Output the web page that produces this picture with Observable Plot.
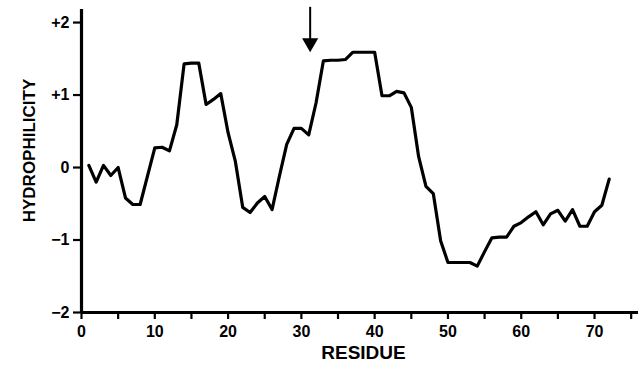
<!DOCTYPE html>
<html>
<head>
<meta charset="utf-8">
<script src="https://cdn.jsdelivr.net/npm/d3@7"></script>
<script src="https://cdn.jsdelivr.net/npm/@observablehq/plot@0.6"></script>
<style>
  html, body { margin: 0; padding: 0; background: #fff; }
</style>
</head>
<body>
<div id="chart"></div>
<script>
// Residue numbers (x) and hydrophilicity values (y)
const residues = [
  1, 2, 3, 4, 5, 6, 7, 8, 9, 10,
  11, 12, 13, 14, 15, 16, 17, 18, 19, 20,
  21, 22, 23, 24, 25, 26, 27, 28, 29, 30,
  31, 32, 33, 34, 35, 36, 37, 38, 39, 40,
  41, 42, 43, 44, 45, 46, 47, 48, 49, 50,
  51, 52, 53, 54, 55, 56, 57, 58, 59, 60,
  61, 62, 63, 64, 65, 66, 67, 68, 69, 70,
  71, 72
];
const hydrophilicity = [
  0.03, -0.20, 0.03, -0.11, 0.00, -0.42, -0.51, -0.51, -0.12, 0.27,
  0.28, 0.23, 0.59, 1.43, 1.44, 1.44, 0.87, 0.94, 1.02, 0.48,
  0.08, -0.55, -0.62, -0.49, -0.40, -0.58, -0.12, 0.32, 0.54, 0.54,
  0.45, 0.89, 1.47, 1.48, 1.48, 1.49, 1.59, 1.59, 1.59, 1.59,
  0.99, 0.99, 1.05, 1.03, 0.83, 0.15, -0.26, -0.36, -1.01, -1.31,
  -1.31, -1.31, -1.31, -1.36, -1.16, -0.97, -0.96, -0.96, -0.81, -0.76,
  -0.68, -0.61, -0.79, -0.64, -0.59, -0.74, -0.58, -0.81, -0.81, -0.61,
  -0.52, -0.16
];
// Marked residue (arrow)
const arrowResidue = [31.2];

// Tick values and labels
const xTicks = [0, 5, 10, 15, 20, 25, 30, 35, 40, 45, 50, 55, 60, 65, 70, 75];
const xTickLabels = ["0", "", "10", "", "20", "", "30", "", "40", "", "50", "", "60", "", "70", ""];
const yTicks = [2, 1, 0, -1, -2];
const yTickLabels = ["+2", "+1", "0", "\u22121", "\u22122"];

const xTitle = "RESIDUE";
const yTitle = "HYDROPHILICITY";

const data = residues.map((r, i) => ({residue: r, value: hydrophilicity[i]}));

const X_MAX = 76;
const Y_MIN = -2, Y_MAX = 2.18;

const chart = Plot.plot({
  width: 644,
  height: 367,
  marginLeft: 81,
  marginRight: 6,
  marginTop: 9,
  marginBottom: 55,
  style: {
    fontFamily: "'Liberation Sans', Arial, Helvetica, sans-serif",
    fontWeight: "bold",
    fontSize: "16px",
    color: "#000",
    background: "#fff"
  },
  x: {domain: [0, X_MAX]},
  y: {domain: [Y_MIN, Y_MAX]},
  marks: [
    Plot.axisX({
      ticks: xTicks,
      tickFormat: (d) => xTickLabels[xTicks.indexOf(d)],
      tickSize: 7,
      tickPadding: 6,
      strokeWidth: 2.2,
      fontSize: 16,
      fontWeight: "bold",
      label: null
    }),
    Plot.axisY({
      ticks: yTicks,
      tickFormat: (d) => yTickLabels[yTicks.indexOf(d)],
      tickSize: 8,
      tickPadding: 4,
      strokeWidth: 2.2,
      fontSize: 16,
      fontWeight: "bold",
      label: null
    }),
    Plot.ruleX([0], {y1: Y_MIN, y2: Y_MAX, strokeWidth: 3.2, stroke: "#000"}),
    Plot.ruleY([Y_MIN], {x1: 0, x2: X_MAX, strokeWidth: 3.2, stroke: "#000"}),
    Plot.line(data, {x: "residue", y: "value", stroke: "#000", strokeWidth: 3.2, strokeLinejoin: "round"}),
    Plot.ruleX(arrowResidue, {x: (d) => d, y1: 2.21, y2: 1.76, stroke: "#000", strokeWidth: 2, clip: false}),
    Plot.dot(arrowResidue, {x: (d) => d, y: 1.72, symbol: "triangle", rotate: 180, r: 6, fill: "#000", stroke: "none"}),
    Plot.text([xTitle], {frameAnchor: "bottom", textAnchor: "middle", dx: 3.5, dy: 46, fontSize: 19, fontWeight: "bold", fill: "#000"}),
    Plot.text([yTitle], {frameAnchor: "left", textAnchor: "middle", rotate: -90, dx: -52, dy: -10.5, fontSize: 17, fontWeight: "bold", fill: "#000"})
  ]
});
document.getElementById("chart").appendChild(chart);
</script>
</body>
</html>
